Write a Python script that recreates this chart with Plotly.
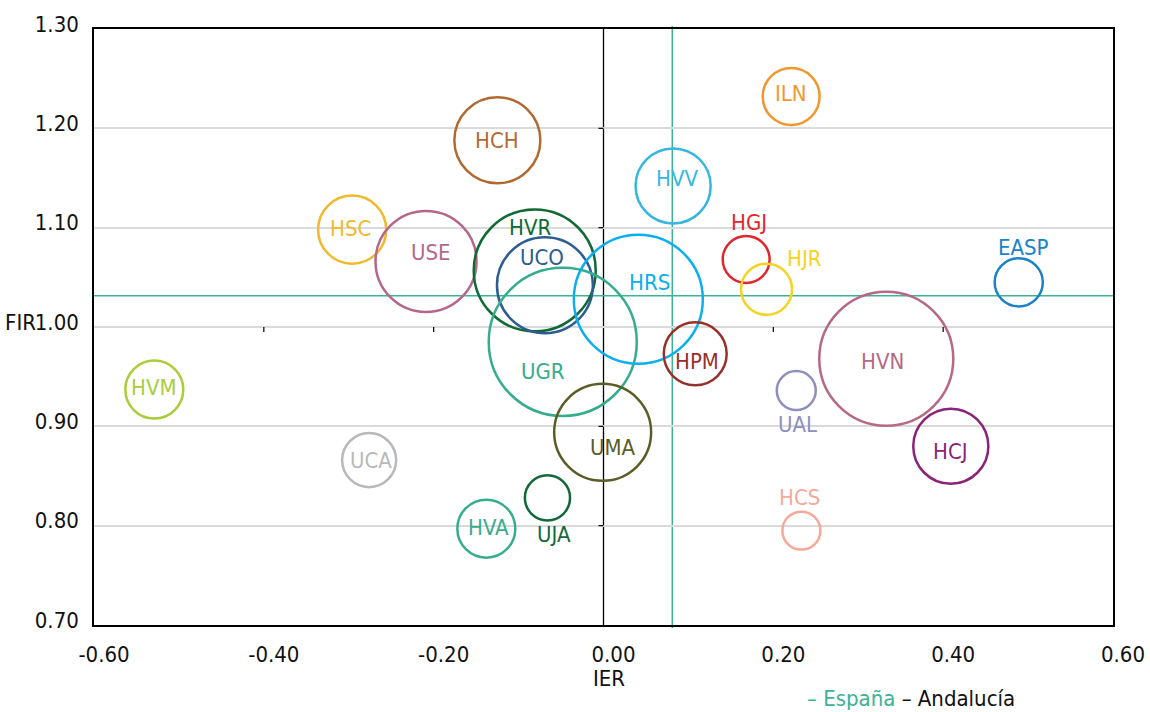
import plotly.graph_objects as go

# ---- data ----
names = ["HCH", "ILN", "HVV", "HSC", "USE", "HVR", "UCO", "UGR", "HRS", "HGJ", "HJR",
         "EASP", "HVN", "HPM", "HVM", "UCA", "UMA", "UJA", "HVA", "UAL", "HCS", "HCJ"]
ier = [-0.125, 0.221, 0.082, -0.296, -0.209, -0.081, -0.069, -0.048, 0.041, 0.168, 0.192,
       0.489, 0.333, 0.108, -0.529, -0.276, -0.001, -0.066, -0.138, 0.227, 0.233, 0.409]
fir = [1.188, 1.232, 1.142, 1.098, 1.066, 1.057, 1.042, 0.985, 1.028, 1.068, 1.038,
       1.045, 0.968, 0.973, 0.937, 0.866, 0.894, 0.828, 0.797, 0.936, 0.795, 0.880]
bubble_size = [185, 81, 141, 116, 255, 372, 230, 548, 416, 55, 65,
               58, 449, 99, 84, 73, 235, 51, 84, 38, 36, 141]

x_ticks = [-0.6, -0.4, -0.2, 0.0, 0.2, 0.4, 0.6]
x_tick_labels = ["-0.60", "-0.40", "-0.20", "0.00", "0.20", "0.40", "0.60"]
y_ticks = [0.7, 0.8, 0.9, 1.0, 1.1, 1.2, 1.3]
y_tick_labels = ["0.70", "0.80", "0.90", "1.00", "1.10", "1.20", "1.30"]

esp_ier = 0.081   # España reference (vertical line)
esp_fir = 1.0315  # España reference (horizontal line)
and_ier = 0.0     # Andalucía reference
and_fir = 1.0

# ---- styles ----
colors = ["#B2692F", "#F0982F", "#35B7E0", "#F0B92B", "#B5668A", "#0F6A34", "#2C5C92",
          "#35AC8C", "#0BAEEE", "#E2252C", "#F6D320", "#1C82C7", "#B66885", "#98302A",
          "#A9CD3B", "#B9B9B9", "#5A5D26", "#12683A", "#36AD8D", "#8E8FC0", "#F5A999", "#8B2378"]
# label offsets in px (dx right, dy down)
label_dx = [0, 0, 4, -2, 5, -5, -3, -20, 11, 3, 38, 5, -4, 2, 0, 2, 10, 7, 2, 1, -2, 0]
label_dy = [0, -3, -7, -1, -9, -43, -28, 30, -17, -37, -31, -35, 3, 8, -2, 0, 15, 37, -1, 34, -33, 5]

FONT = "DejaVu Sans Condensed, Liberation Sans Narrow, sans-serif"
FS = 22
ESP_COLOR = "#3BB396"

fig = go.Figure()
fig.add_trace(go.Scatter(
    x=ier, y=fir, mode="markers",
    marker=dict(size=bubble_size, sizemode="area", sizeref=0.05, opacity=1,
                color="rgba(0,0,0,0)", line=dict(color=colors, width=2.5)),
    text=names, hoverinfo="text+x+y", showlegend=False,
))

annotations = []
for n, xv, yv, c, dx, dy in zip(names, ier, fir, colors, label_dx, label_dy):
    annotations.append(dict(x=xv, y=yv, xref="x", yref="y", text=n, showarrow=False,
                            xshift=dx, yshift=-dy, font=dict(family=FONT, size=FS, color=c)))

annotations.append(dict(x=-0.055, y=1.0, xref="paper", yref="y", text="FIR", showarrow=False,
                        xanchor="right", yanchor="middle", yshift=5,
                        font=dict(family=FONT, size=FS, color="#111")))
annotations.append(dict(x=0.0, y=-0.09, xref="x", yref="paper", text="IER", showarrow=False,
                        xanchor="center", yanchor="middle", xshift=5,
                        font=dict(family=FONT, size=FS, color="#111")))
annotations.append(dict(x=0.802, y=-0.124, xref="paper", yref="paper", showarrow=False,
                        text="<span style='color:%s'>– España</span> – Andalucía" % ESP_COLOR,
                        xanchor="center", yanchor="middle",
                        font=dict(family=FONT, size=FS, color="#111")))

shapes = []
# Andalucía cross axes
shapes.append(dict(type="line", xref="x", yref="paper", x0=and_ier, x1=and_ier, y0=0, y1=1,
                   line=dict(color="#000", width=1.3), layer="below"))
shapes.append(dict(type="line", xref="paper", yref="y", x0=0, x1=1, y0=and_fir, y1=and_fir,
                   line=dict(color="#000", width=1.3), layer="below"))
# España lines
shapes.append(dict(type="line", xref="x", yref="paper", x0=esp_ier, x1=esp_ier, y0=-0.005, y1=1.005,
                   line=dict(color=ESP_COLOR, width=1.5), layer="below"))
shapes.append(dict(type="line", xref="paper", yref="y", x0=0, x1=1, y0=esp_fir, y1=esp_fir,
                   line=dict(color=ESP_COLOR, width=1.5), layer="below"))
# small tick marks on crossing axes
for t in x_ticks[1:-1]:
    if t != and_ier:
        shapes.append(dict(type="line", xref="x", yref="y", x0=t, x1=t, ysizemode="pixel",
                           yanchor=and_fir, y0=0, y1=-5, line=dict(color="#000", width=1.2)))
for t in y_ticks[1:-1]:
    if t != and_fir:
        shapes.append(dict(type="line", xref="x", yref="y", y0=t, y1=t, xsizemode="pixel",
                           xanchor=and_ier, x0=-5, x1=0, line=dict(color="#000", width=1.2)))

fig.update_layout(
    width=1150, height=712,
    margin=dict(l=94, r=37, t=29, b=87, autoexpand=False),
    paper_bgcolor="white", plot_bgcolor="white",
    font=dict(family=FONT, size=FS, color="#111"),
    annotations=annotations, shapes=shapes,
    xaxis=dict(range=[-0.6, 0.6], tickvals=x_ticks, ticktext=x_tick_labels, automargin=False,
               showgrid=False, zeroline=False, showline=True, mirror=True,
               linecolor="#000", linewidth=1.5, ticks="", ticklabelstandoff=9,
               ticklabelshift=10, tickfont=dict(family=FONT, size=FS, color="#111")),
    yaxis=dict(range=[0.7, 1.3], tickvals=y_ticks, ticktext=y_tick_labels, automargin=False,
               showgrid=True, gridcolor="#DADADA", gridwidth=1.5, zeroline=False,
               showline=True, mirror=True, linecolor="#000", linewidth=1.5, ticks="",
               ticklabelstandoff=9, ticklabelshift=-5,
               tickfont=dict(family=FONT, size=FS, color="#111")),
)

fig.write_html("out.html", config={"displayModeBar": False},
               post_script="document.body.style.margin='0';document.body.style.padding='0';")
